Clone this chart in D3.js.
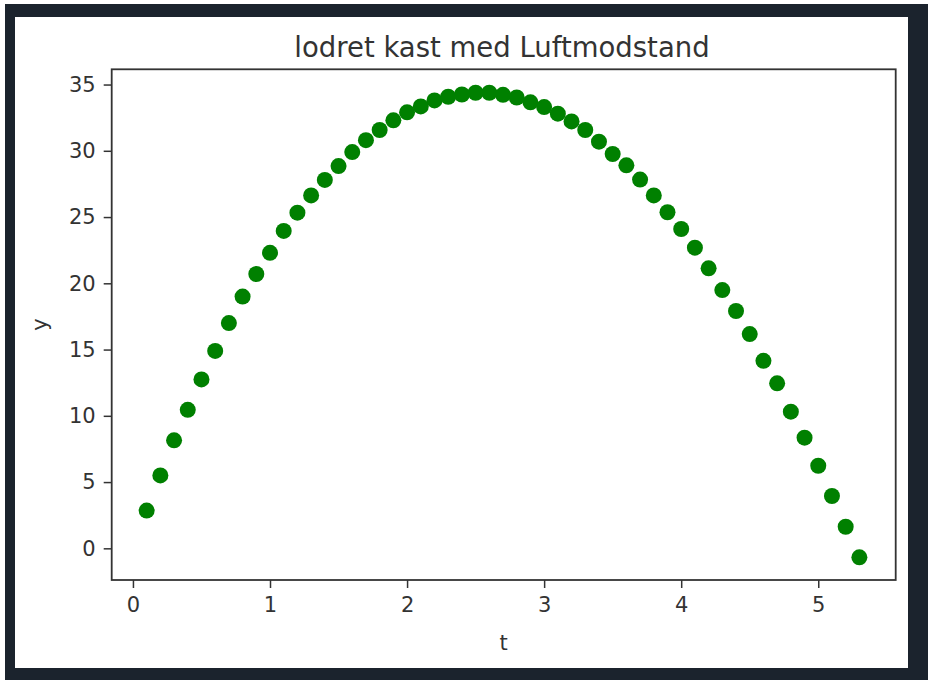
<!DOCTYPE html>
<html>
<head>
<meta charset="utf-8">
<script src="https://cdn.jsdelivr.net/npm/d3@7"></script>
<style>
  html, body { margin: 0; padding: 0; background: #fff; }
  svg { display: block; font-family: "DejaVu Sans", sans-serif; }
</style>
</head>
<body>
<script>
// time steps (s) and height (m)
const tValues = [0.1, 0.2, 0.3, 0.4, 0.5, 0.6, 0.7, 0.8, 0.9, 1.0,
  1.1, 1.2, 1.3, 1.4, 1.5, 1.6, 1.7, 1.8, 1.9, 2.0,
  2.1, 2.2, 2.3, 2.4, 2.5, 2.6, 2.7, 2.8, 2.9, 3.0,
  3.1, 3.2, 3.3, 3.4, 3.5, 3.6, 3.7, 3.8, 3.9, 4.0,
  4.1, 4.2, 4.3, 4.4, 4.5, 4.6, 4.7, 4.8, 4.9, 5.0,
  5.1, 5.2, 5.3];
const yValues = [2.85, 5.5, 8.15, 10.45, 12.75, 14.9, 17.0, 19.0, 20.7, 22.3,
  23.95, 25.33, 26.63, 27.8, 28.85, 29.9, 30.8, 31.57, 32.3, 32.9,
  33.35, 33.8, 34.08, 34.25, 34.38, 34.38, 34.22, 34.02, 33.66, 33.3,
  32.8, 32.22, 31.57, 30.69, 29.76, 28.9, 27.83, 26.63, 25.36, 24.1,
  22.69, 21.13, 19.49, 17.91, 16.17, 14.15, 12.45, 10.31, 8.35, 6.23,
  3.95, 1.63, -0.68];
const xTicks = [0, 1, 2, 3, 4, 5];
const yTicks = [0, 5, 10, 15, 20, 25, 30, 35];

const width = 928;
const height = 680;
const marginTop = 69.3;
const marginRight = 32.3;
const marginBottom = 100;
const marginLeft = 111.7;

const data = tValues.map((t, i) => ({t, y: yValues[i]}));

const svg = d3.select("body")
  .append("svg")
    .attr("width", width)
    .attr("height", height)
    .attr("viewBox", [0, 0, width, height]);

// dark frame round the white figure
svg.append("rect")
    .attr("x", 5).attr("y", 4)
    .attr("width", width - 5).attr("height", height - 4)
    .attr("fill", "#1b232d");
svg.append("rect")
    .attr("x", 15).attr("y", 17)
    .attr("width", 893).attr("height", 651)
    .attr("fill", "#fff");

const x = d3.scaleLinear()
    .domain([-0.155, 5.565])
    .range([marginLeft, width - marginRight]);

const y = d3.scaleLinear()
    .domain([-2.39, 36.15])
    .range([height - marginBottom, marginTop]);

// points
svg.append("g")
    .attr("fill", "#008000")
  .selectAll("circle")
  .data(data)
  .join("circle")
    .attr("cx", d => x(d.t))
    .attr("cy", d => y(d.y))
    .attr("r", 8);

// X Axis
svg.append("g")
    .attr("transform", `translate(0,${height - marginBottom})`)
    .call(d3.axisBottom(x).tickValues(xTicks).tickFormat(d3.format("d")).tickSize(8).tickPadding(9).tickSizeOuter(0))
    .call(g => g.selectAll(".domain").remove())
    .call(g => g.selectAll("line").attr("stroke", "#333").attr("stroke-width", 1.5))
    .call(g => g.selectAll("text").attr("font-size", 21).attr("fill", "#333")
        .attr("font-family", "DejaVu Sans"));

// Y Axis
svg.append("g")
    .attr("transform", `translate(${marginLeft},0)`)
    .call(d3.axisLeft(y).tickValues(yTicks).tickSize(8).tickPadding(8).tickSizeOuter(0))
    .call(g => g.selectAll(".domain").remove())
    .call(g => g.selectAll("line").attr("stroke", "#333").attr("stroke-width", 1.5))
    .call(g => g.selectAll("text").attr("font-size", 21).attr("fill", "#333")
        .attr("font-family", "DejaVu Sans"));

// axes frame
svg.append("rect")
    .attr("x", marginLeft)
    .attr("y", marginTop)
    .attr("width", width - marginRight - marginLeft)
    .attr("height", height - marginBottom - marginTop)
    .attr("fill", "none")
    .attr("stroke", "#333")
    .attr("stroke-width", 1.8);

// title
svg.append("text")
    .attr("text-anchor", "middle")
    .attr("x", 502)
    .attr("y", 57)
    .attr("font-size", 27.5)
    .attr("fill", "#333")
    .text("lodret kast med Luftmodstand");

// X-axis Label
svg.append("text")
    .attr("text-anchor", "middle")
    .attr("x", (marginLeft + width - marginRight) / 2)
    .attr("y", 650)
    .attr("font-size", 21)
    .attr("fill", "#333")
    .text("t");

// Y-axis Label
svg.append("text")
    .attr("text-anchor", "middle")
    .attr("transform", "rotate(-90)")
    .attr("x", -(marginTop + height - marginBottom) / 2)
    .attr("y", 47)
    .attr("font-size", 21)
    .attr("fill", "#333")
    .text("y");
</script>
</body>
</html>
